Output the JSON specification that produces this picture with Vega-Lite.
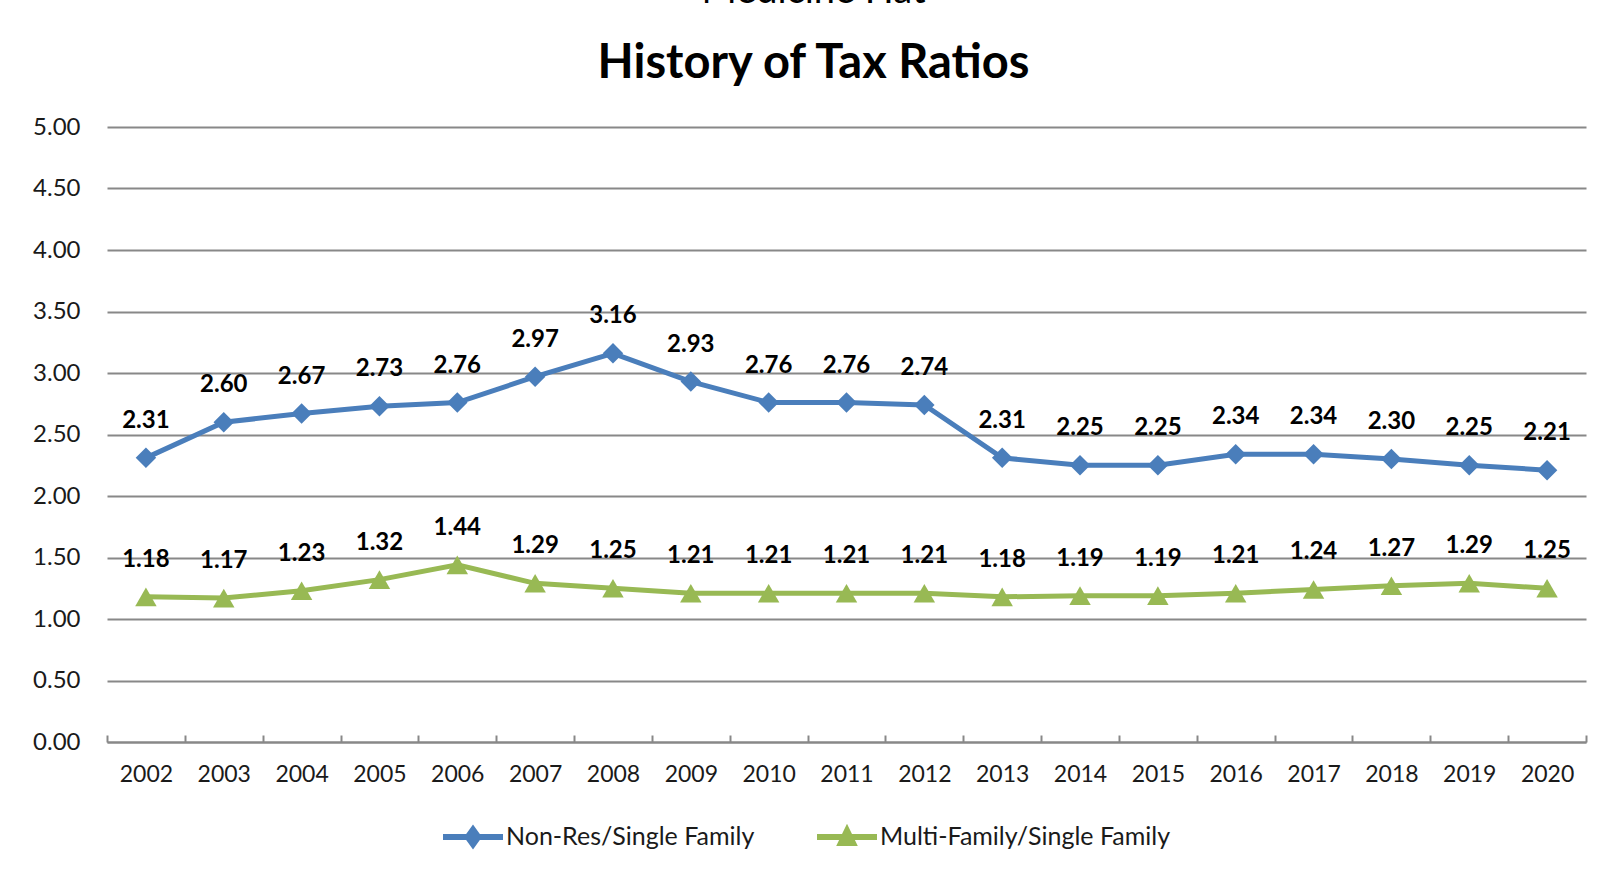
{
  "$schema": "https://vega.github.io/schema/vega-lite/v6.json",
  "width": 1479,
  "height": 615,
  "autosize": "none",
  "padding": {"left": 107, "top": 127, "right": 22, "bottom": 132},
  "background": "white",
  "title": {
    "text": "Medicine Hat",
    "subtitle": "History of Tax Ratios",
    "font": "Lato",
    "fontSize": 38,
    "fontWeight": "normal",
    "color": "black",
    "subtitleFont": "Lato",
    "subtitleFontSize": 47,
    "subtitleFontWeight": "bold",
    "subtitleColor": "black",
    "subtitlePadding": 30,
    "anchor": "middle",
    "dx": -33,
    "offset": 28
  },
  "data": {
    "values": [
      {"year": "2002", "series": "Non-Res/Single Family", "value": 2.31},
      {"year": "2003", "series": "Non-Res/Single Family", "value": 2.60},
      {"year": "2004", "series": "Non-Res/Single Family", "value": 2.67},
      {"year": "2005", "series": "Non-Res/Single Family", "value": 2.73},
      {"year": "2006", "series": "Non-Res/Single Family", "value": 2.76},
      {"year": "2007", "series": "Non-Res/Single Family", "value": 2.97},
      {"year": "2008", "series": "Non-Res/Single Family", "value": 3.16},
      {"year": "2009", "series": "Non-Res/Single Family", "value": 2.93},
      {"year": "2010", "series": "Non-Res/Single Family", "value": 2.76},
      {"year": "2011", "series": "Non-Res/Single Family", "value": 2.76},
      {"year": "2012", "series": "Non-Res/Single Family", "value": 2.74},
      {"year": "2013", "series": "Non-Res/Single Family", "value": 2.31},
      {"year": "2014", "series": "Non-Res/Single Family", "value": 2.25},
      {"year": "2015", "series": "Non-Res/Single Family", "value": 2.25},
      {"year": "2016", "series": "Non-Res/Single Family", "value": 2.34},
      {"year": "2017", "series": "Non-Res/Single Family", "value": 2.34},
      {"year": "2018", "series": "Non-Res/Single Family", "value": 2.30},
      {"year": "2019", "series": "Non-Res/Single Family", "value": 2.25},
      {"year": "2020", "series": "Non-Res/Single Family", "value": 2.21},
      {"year": "2002", "series": "Multi-Family/Single Family", "value": 1.18},
      {"year": "2003", "series": "Multi-Family/Single Family", "value": 1.17},
      {"year": "2004", "series": "Multi-Family/Single Family", "value": 1.23},
      {"year": "2005", "series": "Multi-Family/Single Family", "value": 1.32},
      {"year": "2006", "series": "Multi-Family/Single Family", "value": 1.44},
      {"year": "2007", "series": "Multi-Family/Single Family", "value": 1.29},
      {"year": "2008", "series": "Multi-Family/Single Family", "value": 1.25},
      {"year": "2009", "series": "Multi-Family/Single Family", "value": 1.21},
      {"year": "2010", "series": "Multi-Family/Single Family", "value": 1.21},
      {"year": "2011", "series": "Multi-Family/Single Family", "value": 1.21},
      {"year": "2012", "series": "Multi-Family/Single Family", "value": 1.21},
      {"year": "2013", "series": "Multi-Family/Single Family", "value": 1.18},
      {"year": "2014", "series": "Multi-Family/Single Family", "value": 1.19},
      {"year": "2015", "series": "Multi-Family/Single Family", "value": 1.19},
      {"year": "2016", "series": "Multi-Family/Single Family", "value": 1.21},
      {"year": "2017", "series": "Multi-Family/Single Family", "value": 1.24},
      {"year": "2018", "series": "Multi-Family/Single Family", "value": 1.27},
      {"year": "2019", "series": "Multi-Family/Single Family", "value": 1.29},
      {"year": "2020", "series": "Multi-Family/Single Family", "value": 1.25}
    ]
  },
  "encoding": {
    "x": {
      "field": "year",
      "type": "ordinal",
      "scale": {"paddingInner": 0, "paddingOuter": 0},
      "axis": {
        "title": null,
        "labelAngle": 0,
        "labelFont": "Lato",
        "labelFontSize": 23,
        "labelColor": "#1a1a1a",
        "labelPadding": 28,
        "domainColor": "#888888",
        "domainWidth": 2,
        "tickColor": "#888888",
        "tickWidth": 2,
        "tickSize": -7,
        "tickBand": "extent",
        "grid": false
      }
    },
    "y": {
      "field": "value",
      "type": "quantitative",
      "scale": {"domain": [0, 5], "nice": false},
      "axis": {
        "title": null,
        "values": [0, 0.5, 1, 1.5, 2, 2.5, 3, 3.5, 4, 4.5, 5],
        "format": ".2f",
        "labelFont": "Lato",
        "labelFontSize": 24,
        "labelColor": "#1a1a1a",
        "labelPadding": 27,
        "domain": false,
        "ticks": false,
        "grid": true,
        "gridColor": "#888888",
        "gridWidth": 2
      }
    }
  },
  "layer": [
    {
      "mark": {"type": "line", "strokeWidth": 5},
      "encoding": {
        "stroke": {
          "field": "series",
          "type": "nominal",
          "sort": ["Non-Res/Single Family", "Multi-Family/Single Family"],
          "scale": {
            "domain": ["Non-Res/Single Family", "Multi-Family/Single Family"],
            "range": ["#4A7EBB", "#98B954"]
          },
          "legend": {
            "title": null,
            "orient": "none",
            "legendX": 336,
            "legendY": 680,
            "direction": "horizontal",
            "labelFont": "Lato",
            "labelFontSize": 25,
            "labelColor": "#1a1a1a",
            "labelOffset": 3,
            "labelLimit": 0,
            "symbolSize": 3600,
            "symbolStrokeWidth": 0,
            "columnPadding": 62,
            "encode": {
              "symbols": {
                "update": {
                  "shape": {"signal": "datum.value === 'Non-Res/Single Family' ? 'M-1,-0.1L1,-0.1L1,0.1L-1,0.1Z M0,-0.42L0.3,0L0,0.42L-0.3,0Z' : 'M-1,-0.1L1,-0.1L1,0.1L-1,0.1Z M0,-0.44L0.36,0.3L-0.36,0.3Z'"},
                  "fill": {"signal": "datum.value === 'Non-Res/Single Family' ? '#4A7EBB' : '#98B954'"},
                  "strokeWidth": {"value": 0},
                  "opacity": {"value": 1}
                }
              }
            }
          }
        }
      }
    },
    {
      "transform": [{"filter": "datum.series === 'Non-Res/Single Family'"}],
      "mark": {"type": "point", "filled": true, "opacity": 1, "size": 420, "strokeWidth": 0, "shape": "diamond", "color": "#4A7EBB"}
    },
    {
      "transform": [{"filter": "datum.series === 'Multi-Family/Single Family'"}],
      "mark": {"type": "point", "filled": true, "opacity": 1, "size": 460, "strokeWidth": 0, "shape": "triangle-up", "color": "#98B954"}
    },
    {
      "mark": {"type": "text", "font": "Lato", "fontSize": 24, "fontWeight": "bold", "color": "black", "dy": -37, "baseline": "middle"},
      "encoding": {
        "text": {"field": "value", "type": "quantitative", "format": ".2f"}
      }
    }
  ],
  "config": {
    "view": {"stroke": null}
  }
}
